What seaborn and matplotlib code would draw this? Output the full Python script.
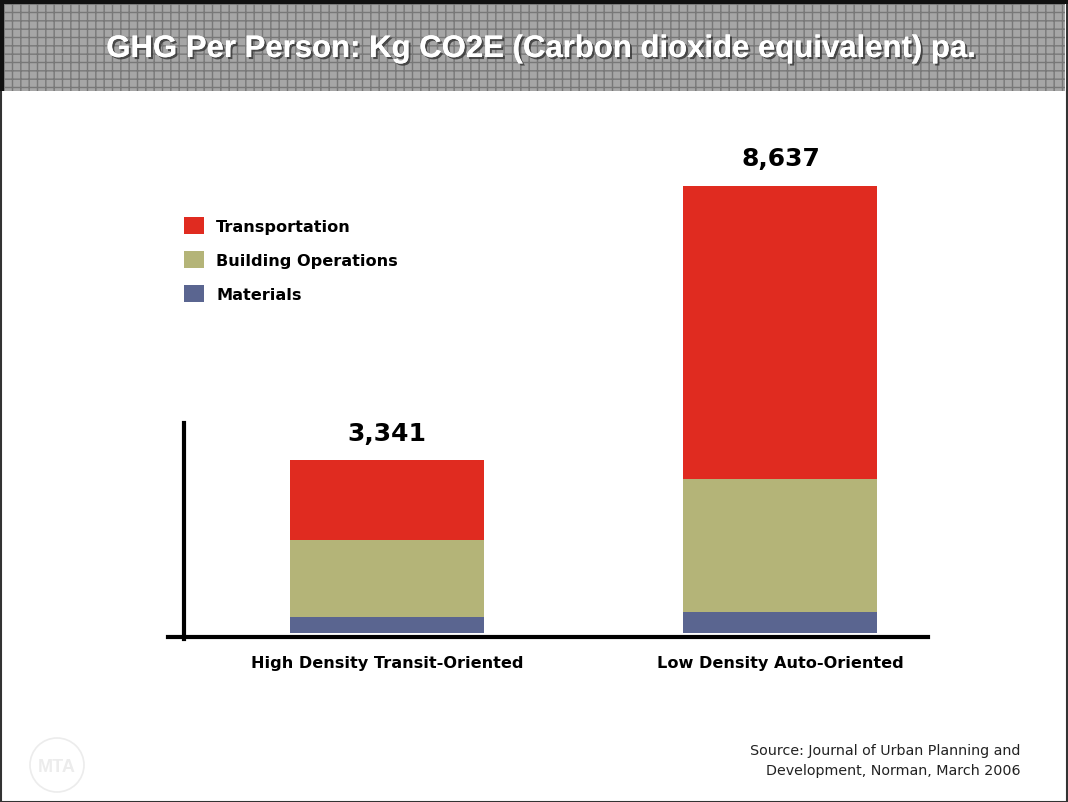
import matplotlib
matplotlib.use("Agg")
import matplotlib.pyplot as plt
import matplotlib.patches as mpatches
import matplotlib.patheffects as pe
import seaborn as sns
import pandas as pd
import numpy as np

# ---- data ----
categories = ["High Density Transit-Oriented", "Low Density Auto-Oriented"]
series_names = ["Transportation", "Building Operations", "Materials"]
materials = [310, 405]
building = [1490, 2570]
transport = [1541, 5662]
totals = [3341, 8637]
total_labels = ["3,341", "8,637"]
colors = {"Transportation": "#e02b20", "Building Operations": "#b4b478", "Materials": "#5a6590"}

title = "GHG Per Person: Kg CO2E (Carbon dioxide equivalent) pa."
source = "Source: Journal of Urban Planning and\nDevelopment, Norman, March 2006"

sns.set_theme(style="white")
plt.rcParams["font.family"] = ["DejaVu Sans"]
plt.rcParams["hatch.linewidth"] = 1.0
plt.rcParams["text.color"] = "black"

W, H = 1068, 803
fig = plt.figure(figsize=(W / 100, H / 100), dpi=100)
fig.patch.set_facecolor("white")

# figure border
fig.add_artist(mpatches.Rectangle((0.5 / W, 0.5 / H), 1 - 1.5 / W, 1 - 1.5 / H, transform=fig.transFigure,
                                  fill=False, edgecolor="#333333", linewidth=1.5))

# title band
band = mpatches.Rectangle((3 / W, 1 - 92 / H), 1 - 6 / W, 87 / H, transform=fig.transFigure,
                          facecolor="#a6a6a6", edgecolor="#787878", hatch="++", linewidth=0)
fig.add_artist(band)
fig.add_artist(mpatches.Rectangle((0, 1 - 92 / H), 4 / W, 92 / H, transform=fig.transFigure,
                                  facecolor="#111111", edgecolor="none"))
fig.add_artist(mpatches.Rectangle((0, 1 - 5 / H), 1, 5 / H, transform=fig.transFigure,
                                  facecolor="#111111", edgecolor="none"))
fig.text(541 / W, 1 - 50 / H, title, ha="center", va="center", color="white", fontsize=22.4,
         fontweight="bold", family=["Liberation Sans Narrow", "Liberation Sans", "DejaVu Sans"],
         path_effects=[pe.withSimplePatchShadow(offset=(1.5, -1.5), shadow_rgbFace="#333333", alpha=0.8),
                       pe.Normal()])

# ---- axes ----
ax_left, ax_right = 168, 928
ax_bottom, ax_top = 638, 100
ax = fig.add_axes([ax_left / W, 1 - ax_bottom / H, (ax_right - ax_left) / W, (ax_bottom - ax_top) / H])
ax.set_facecolor("none")

df = pd.DataFrame({"category": categories, "materials": materials,
                   "building": building, "transport": transport})
df["lvl_top"] = df["materials"] + df["building"] + df["transport"]
df["lvl_mid"] = df["materials"] + df["building"]
df["lvl_low"] = df["materials"]

bw = 0.493
for col, name in [("lvl_top", "Transportation"), ("lvl_mid", "Building Operations"), ("lvl_low", "Materials")]:
    sns.barplot(data=df, x="category", y=col, color=colors[name], width=bw, ax=ax,
                saturation=1, linewidth=0, edgecolor="none", errorbar=None)

px_per_unit = 0.0518
base_px = 634
ax.set_ylim(-(ax_bottom - base_px) / px_per_unit, (base_px - ax_top) / px_per_unit)
ax.set_xlim(-0.5565, -0.5565 + (ax_right - ax_left) / 393.5)

for i, (t, lab) in enumerate(zip(totals, total_labels)):
    ax.annotate(lab, (i, t), xytext=(0, 11), textcoords="offset points", ha="center", va="bottom",
                fontsize=18, fontweight="bold", color="black")

ax.set_xlabel("")
ax.set_ylabel("")
ax.set_yticks([])
ax.tick_params(axis="x", length=0, pad=13, labelsize=11.6, labelcolor="black")
for t in ax.get_xticklabels():
    t.set_fontweight("bold")

for s in ["top", "right"]:
    ax.spines[s].set_visible(False)
ax.spines["bottom"].set_color("black")
ax.spines["bottom"].set_linewidth(3)
ax.spines["left"].set_color("black")
ax.spines["left"].set_linewidth(3)
ax.spines["left"].set_position(("axes", (184 - ax_left) / (ax_right - ax_left)))
ax.spines["left"].set_bounds((base_px - 640) / px_per_unit, (base_px - 424) / px_per_unit)

# legend
handles = [mpatches.Patch(facecolor=colors[n], edgecolor="none", label=n) for n in series_names]
leg = fig.legend(handles=handles, loc="upper left", bbox_to_anchor=(171 / W, 1 - 205 / H),
                 frameon=False, fontsize=11.6, handlelength=1.25, handleheight=1.25,
                 labelspacing=1.07, handletextpad=0.75, borderpad=0.3)
for t in leg.get_texts():
    t.set_fontweight("bold")
    t.set_color("black")

# source
fig.text(1020 / W, 1 - 761 / H, source, ha="right", va="center", fontsize=10.3, color="#222222",
         linespacing=1.6)

# faint logo
fig.add_artist(mpatches.Ellipse((57 / W, 1 - 766 / H), 54 / W, 54 / H, transform=fig.transFigure,
                                fill=False, edgecolor="#ececec", linewidth=1.2))
fig.text(57 / W, 1 - 768 / H, "MTA", ha="center", va="center", fontsize=13, color="#ececec",
         fontweight="bold", family=["Liberation Sans Narrow", "Liberation Sans", "DejaVu Sans"])

fig.savefig("out.png", dpi=100, facecolor="white")
